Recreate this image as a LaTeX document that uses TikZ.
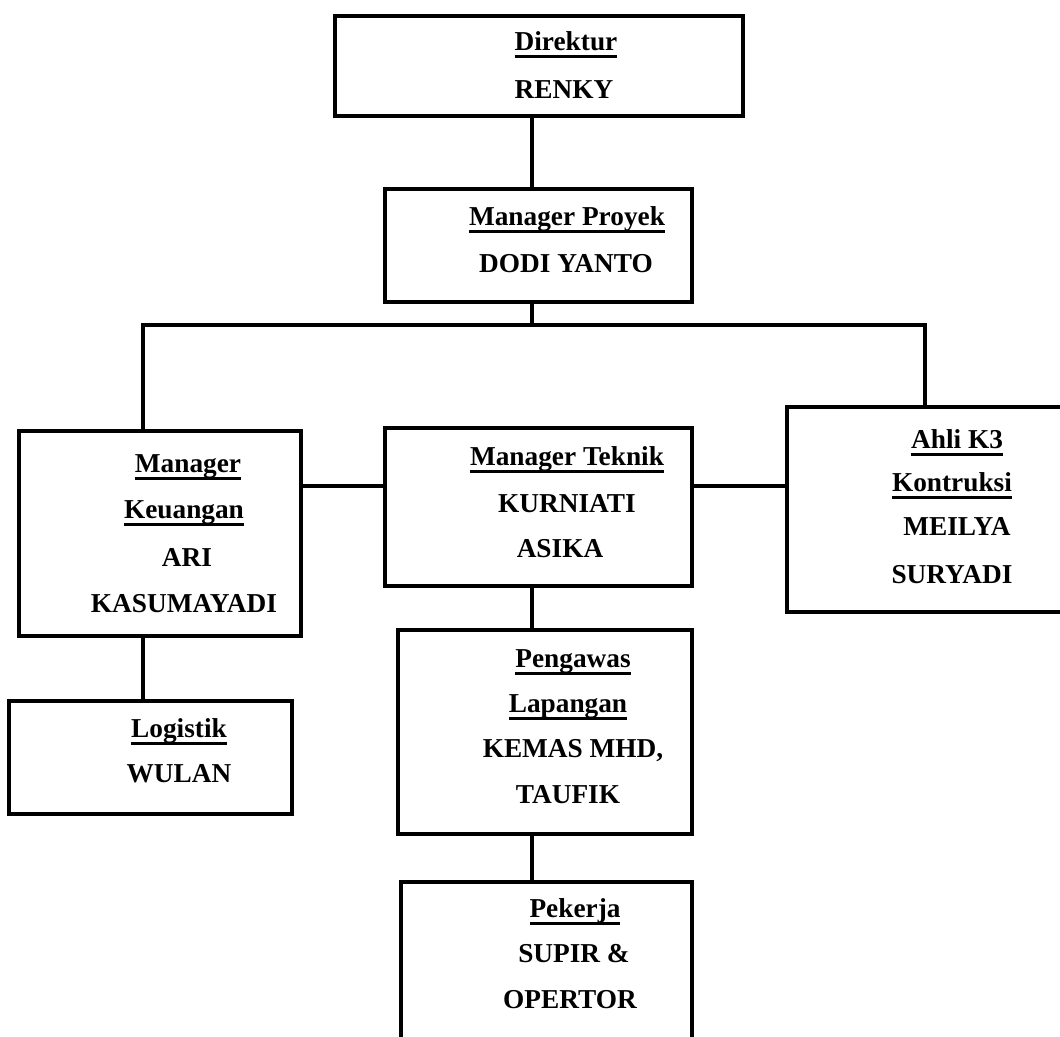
\documentclass[tikz,border=0pt]{standalone}
\usepackage{fontspec}
\setmainfont{Liberation Serif}
\newcommand\myul[1]{\setbox0\hbox{#1}\rlap{\rule[-7.5pt]{\wd0}{2.6pt}}\box0}
\begin{document}
\begin{tikzpicture}[x=1pt,y=-1pt,
  box/.style={draw=black,line width=3.5pt,rectangle,inner sep=0pt},
  lbl/.style={anchor=base,inner sep=0pt,font=\fontsize{27.3}{31}\selectfont\bfseries},
  conn/.style={draw=black,line width=3.5pt}]
\useasboundingbox (0,0) rectangle (1060,1036);
\clip (0,0) rectangle (1060,1036);
% boxes
\node[box,minimum width=408pt,minimum height=100pt] (dir) at (539,66) {};
\node[box,minimum width=307pt,minimum height=113pt] (pro) at (538.5,245.5) {};
\node[box,minimum width=282pt,minimum height=205pt] (keu) at (160,533.5) {};
\node[box,minimum width=307pt,minimum height=158pt] (tek) at (538.5,507) {};
\node[box,minimum width=290pt,minimum height=205pt] (ahl) at (932,509.5) {};
\node[box,minimum width=283pt,minimum height=113pt] (log) at (150.5,757.5) {};
\node[box,minimum width=294pt,minimum height=204pt] (pen) at (545,732) {};
\node[box,minimum width=291pt,minimum height=170pt] (pek) at (546.5,967) {};
% connector guides
\coordinate (cx) at (532,0);
\coordinate (lx) at (143,0);
\coordinate (rx) at (925,0);
\coordinate (busy) at (0,325);
\coordinate (hy) at (0,486);
% connectors
\draw[conn] (cx |- dir.south) -- (cx |- pro.north);
\draw[conn] (cx |- pro.south) -- (cx |- busy);
\draw[conn] (lx |- keu.north) -- (lx |- busy) -- (rx |- busy) -- (rx |- ahl.north);
\draw[conn] (keu.east |- hy) -- (tek.west |- hy);
\draw[conn] (tek.east |- hy) -- (ahl.west |- hy);
\draw[conn] (cx |- tek.south) -- (cx |- pen.north);
\draw[conn] (lx |- keu.south) -- (lx |- log.north);
\draw[conn] (cx |- pen.south) -- (cx |- pek.north);
% texts
\node[lbl] (dir1) at (566,50) {\myul{Direktur}};
\node[lbl] (dir2) at (564,98) {RENKY};
\node[lbl] (pro1) at (567,225) {\myul{Manager Proyek}};
\node[lbl] (pro2) at (566,272) {DODI YANTO};
\node[lbl] (keu1) at (188,472) {\myul{Manager}};
\node[lbl] (keu2) at (184,518) {\myul{Keuangan}};
\node[lbl] (keu3) at (187,566) {ARI};
\node[lbl] (keu4) at (184,612) {KASUMAYADI};
\node[lbl] (tek1) at (567,465) {\myul{Manager Teknik}};
\node[lbl] (tek2) at (567,512) {KURNIATI};
\node[lbl] (tek3) at (560,557) {ASIKA};
\node[lbl] (ahl1) at (957,448) {\myul{Ahli K3}};
\node[lbl] (ahl2) at (952,491) {\myul{Kontruksi}};
\node[lbl] (ahl3) at (957,535) {MEILYA};
\node[lbl] (ahl4) at (952,583) {SURYADI};
\node[lbl] (log1) at (179,737) {\myul{Logistik}};
\node[lbl] (log2) at (179,782) {WULAN};
\node[lbl] (pen1) at (573,667) {\myul{Pengawas}};
\node[lbl] (pen2) at (568,712) {\myul{Lapangan}};
\node[lbl] (pen3) at (573,757) {KEMAS MHD,};
\node[lbl] (pen4) at (568,803) {TAUFIK};
\node[lbl] (pek1) at (575,917) {\myul{Pekerja}};
\node[lbl] (pek2) at (574,962) {SUPIR \&};
\node[lbl] (pek3) at (570,1008) {OPERTOR};
\end{tikzpicture}
\end{document}
